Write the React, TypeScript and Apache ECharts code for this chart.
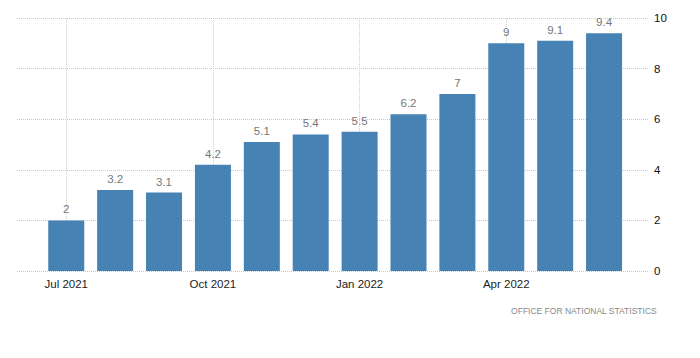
import React, { useEffect, useRef } from "react";
import * as echarts from "echarts";

const categories = [
  "Jul 2021", "Aug 2021", "Sep 2021", "Oct 2021", "Nov 2021", "Dec 2021",
  "Jan 2022", "Feb 2022", "Mar 2022", "Apr 2022", "May 2022", "Jun 2022",
];
const values = [2, 3.2, 3.1, 4.2, 5.1, 5.4, 5.5, 6.2, 7, 9, 9.1, 9.4];
const labeledCategories = ["Jul 2021", "Oct 2021", "Jan 2022", "Apr 2022"];
const yTicks = [0, 2, 4, 6, 8, 10];
const sourceText = "OFFICE FOR NATIONAL STATISTICS";

export default function App() {
  const ref = useRef<HTMLDivElement>(null);
  useEffect(() => {
    if (!ref.current) return;
    const chart = echarts.init(ref.current, null, { renderer: "svg" });
    const font = "Liberation Sans, Arial, sans-serif";
    chart.setOption({
      animation: false,
      backgroundColor: "#ffffff",
      grid: [
        { left: 17, right: 52, top: 18, bottom: 87 },
        { left: 41.8, right: 71.5, top: 18, bottom: 87 },
      ],
      xAxis: [
        { type: "value", gridIndex: 0, show: false, min: 0, max: 1 },
        {
          type: "category",
          gridIndex: 1,
          data: categories,
          axisLine: { show: false },
          axisTick: { show: false },
          splitLine: { show: false },
          axisLabel: {
            interval: (i: number, v: string) => labeledCategories.includes(v),
            color: "#222",
            fontFamily: font,
            fontSize: 11.5,
            margin: 7,
          },
        },
      ],
      yAxis: [
        {
          type: "value",
          gridIndex: 0,
          position: "right",
          min: 0,
          max: 10,
          interval: 2,
          axisLine: { show: false },
          axisTick: { show: false },
          axisLabel: {
            color: "#111",
            fontFamily: font,
            fontSize: 11.5,
            margin: 6,
            formatter: (v: number) => (yTicks.includes(v) ? String(v) : ""),
          },
          splitLine: {
            show: true,
            lineStyle: { color: "#c8c8c8", type: [1, 1], width: 1 },
          },
        },
        {
          type: "value",
          gridIndex: 1,
          min: 0,
          max: 10,
          show: false,
          splitLine: { show: false },
        },
      ],
      series: [
        {
          type: "bar",
          xAxisIndex: 1,
          yAxisIndex: 1,
          data: values,
          barWidth: 36,
          itemStyle: { color: "#4682b4" },
          label: {
            show: true,
            position: "top",
            distance: 5,
            color: "#777",
            fontFamily: font,
            fontSize: 11.5,
          },
          markLine: {
            silent: true,
            symbol: "none",
            label: { show: false },
            lineStyle: { color: "#d0d0d0", type: [1, 1], width: 1 },
            data: labeledCategories.map((c) => ({ xAxis: c })),
            z: 0,
          },
          z: 2,
        },
      ],
      graphic: [
        {
          type: "text",
          right: 43,
          top: 306,
          style: {
            text: sourceText,
            fill: "#888",
            font: `8.5px ${font}`,
          },
        },
      ],
    });
    return () => chart.dispose();
  }, []);
  return (
    <div
      ref={ref}
      style={{ position: "fixed", left: 0, top: 0, width: 700, height: 358 }}
    />
  );
}
